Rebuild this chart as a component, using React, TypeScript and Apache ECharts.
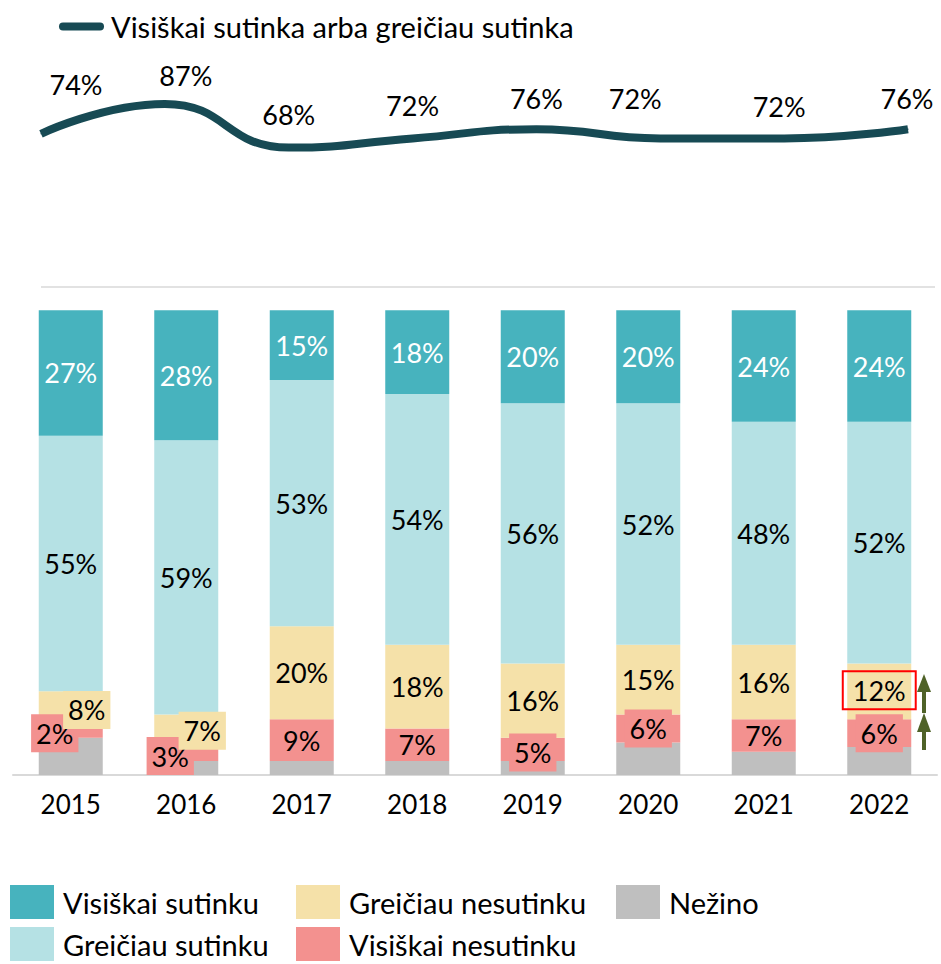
import React, { useEffect, useRef } from "react";
import * as echarts from "echarts";

const FONT = 'Lato, "Noto Sans", sans-serif';

const years = ["2015", "2016", "2017", "2018", "2019", "2020", "2021", "2022"];
const visiskaiSutinku = [27, 28, 15, 18, 20, 20, 24, 24];
const greiciauSutinku = [55, 59, 53, 54, 56, 52, 48, 52];
const greiciauNesutinku = [8, 7, 20, 18, 16, 15, 16, 12];
const visiskaiNesutinku = [2, 3, 9, 7, 5, 6, 7, 6];
const nezino = [8, 3, 3, 3, 3, 7, 5, 6];
const sutinkaTotal = [74, 87, 68, 72, 76, 72, 72, 76];

const C_TEAL = "#47B3BE";
const C_LIGHT = "#B5E1E4";
const C_YELLOW = "#F5E1A9";
const C_PINK = "#F3918F";
const C_GRAY = "#BFBFBF";
const C_LINE = "#174A54";
const C_ARROW = "#4F6228";

// label styling overrides (by category index)
const redLabelStyle: Record<number, any> = {
  0: { offset: [-16, 0], bg: true },
  1: { offset: [-16, 2], bg: true },
  4: { offset: [0, 3], bg: true },
  5: { offset: [0, 0], bg: true },
  7: { offset: [0, 0], bg: true },
};
const yellowLabelStyle: Record<number, any> = {
  0: { offset: [16, 0], bg: true },
  1: { offset: [16, 0], bg: true },
  7: { offset: [0, -1], box: true },
};
const lineLabelOffsets = [
  [35, -49],
  [21, -28],
  [0, -33],
  [0, -33],
  [0, -31],
  [-25, -40],
  [-5, -32],
  [-1, -31],
];

const labelBase = {
  show: true,
  position: "inside",
  fontSize: 27,
  fontFamily: FONT,
  color: "#000",
  lineHeight: 30,
  formatter: "{c}%",
};

function withLabels(values: number[], styles: Record<number, any>, bgColor: string) {
  return values.map((v, i) => {
    const s = styles[i];
    if (!s) return v;
    const label: any = { offset: s.offset };
    if (s.bg) {
      label.backgroundColor = bgColor;
      label.padding = [4, 5];
    }
    if (s.box) {
      label.borderColor = "#FF0000";
      label.borderWidth = 2;
      label.padding = [4, 10];
    }
    return { value: v, label };
  });
}

export default function App() {
  const ref = useRef<HTMLDivElement>(null);

  useEffect(() => {
    if (!ref.current) return;
    const chart = echarts.init(ref.current, undefined, { renderer: "svg" });

    const barSeries = (name: string, data: any[], color: string, labelColor = "#000", showLabel = true) => ({
      name,
      type: "bar",
      stack: "total",
      xAxisIndex: 0,
      yAxisIndex: 0,
      barWidth: 64,
      data,
      itemStyle: { color },
      label: { ...labelBase, color: labelColor, show: showLabel },
    });

    const legendItem = (name: string, left: number, top: number) => ({
      data: [name],
      left,
      top,
      icon: "rect",
      itemWidth: 44,
      itemHeight: 34,
      selectedMode: false,
      textStyle: { fontSize: 29, lineHeight: 32, fontFamily: FONT, color: "#000", padding: [0, 0, 0, 4] },
    });

    const option: any = {
      animation: false,
      textStyle: { fontFamily: FONT },
      grid: [
        { left: 13, right: 4, top: 287, bottom: 189 },
        { left: 41, right: 33, top: 74, bottom: 660 },
      ],
      xAxis: [
        {
          type: "category",
          data: years,
          gridIndex: 0,
          axisLine: { lineStyle: { color: "#D9D9D9", width: 2 } },
          axisTick: { show: false },
          axisLabel: { fontSize: 26, color: "#000", margin: 16, fontFamily: FONT },
        },
        { type: "category", data: years, gridIndex: 1, boundaryGap: false, show: false },
      ],
      yAxis: [
        { type: "value", gridIndex: 0, min: 0, max: 105, show: false },
        { type: "value", gridIndex: 1, min: 0, max: 100, show: false },
      ],
      legend: [
        {
          data: ["Visiškai sutinka arba greičiau sutinka"],
          left: 54,
          top: 7,
          icon: "path://M4,0 H41 A4,4 0 0 1 41,8 H4 A4,4 0 0 1 4,0 Z",
          itemWidth: 45,
          itemHeight: 8,
          selectedMode: false,
          textStyle: { fontSize: 29, fontFamily: FONT, color: "#000", padding: [0, 0, 0, 2] },
        },
        legendItem("Visiškai sutinku", 5, 880),
        legendItem("Greičiau nesutinku", 291, 880),
        legendItem("Nežino", 611, 880),
        legendItem("Greičiau sutinku", 5, 922),
        legendItem("Visiškai nesutinku", 291, 922),
      ],
      series: [
        barSeries("Nežino", nezino, C_GRAY, "#000", false),
        barSeries("Visiškai nesutinku", withLabels(visiskaiNesutinku, redLabelStyle, C_PINK), C_PINK),
        barSeries("Greičiau nesutinku", withLabels(greiciauNesutinku, yellowLabelStyle, C_YELLOW), C_YELLOW),
        barSeries("Greičiau sutinku", greiciauSutinku, C_LIGHT),
        barSeries("Visiškai sutinku", visiskaiSutinku, C_TEAL, "#fff"),
        {
          name: "Visiškai sutinka arba greičiau sutinka",
          type: "line",
          xAxisIndex: 1,
          yAxisIndex: 1,
          smooth: 0.5,
          symbol: "circle",
          symbolSize: 1,
          showSymbol: true,
          lineStyle: { color: C_LINE, width: 8 },
          itemStyle: { color: C_LINE },
          data: sutinkaTotal.map((v, i) => ({
            value: v,
            label: { offset: lineLabelOffsets[i] },
          })),
          label: {
            show: true,
            position: "inside",
            fontSize: 27,
            fontFamily: FONT,
            color: "#000",
            formatter: "{c}%",
          },
        },
      ],
      graphic: [
        {
          type: "line",
          shape: { x1: 41, y1: 287, x2: 935, y2: 287 },
          style: { stroke: "#D9D9D9", lineWidth: 1.5 },
          silent: true,
        },
        {
          type: "line",
          shape: { x1: 924, y1: 690, x2: 924, y2: 713 },
          style: { stroke: C_ARROW, lineWidth: 4 },
        },
        {
          type: "polygon",
          shape: { points: [[917, 692], [924, 674], [931, 692]] },
          style: { fill: C_ARROW },
        },
        {
          type: "line",
          shape: { x1: 924, y1: 730, x2: 924, y2: 750 },
          style: { stroke: C_ARROW, lineWidth: 4 },
        },
        {
          type: "polygon",
          shape: { points: [[917, 732], [924, 713], [931, 732]] },
          style: { fill: C_ARROW },
        },
      ],
    };

    chart.setOption(option);
    return () => chart.dispose();
  }, []);

  return (
    <div
      ref={ref}
      style={{ position: "fixed", left: 0, top: 0, width: 941, height: 964, background: "#fff" }}
    />
  );
}
